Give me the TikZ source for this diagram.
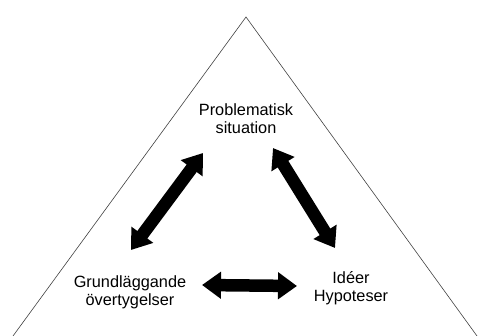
\documentclass[tikz,border=0pt]{standalone}
\usepackage{fontspec}
\setmainfont{Liberation Sans}
\usetikzlibrary{arrows.meta}
\begin{document}
\begin{tikzpicture}[x=1pt,y=-1pt,
    txt/.style={align=center,inner sep=0pt,font=\fontsize{16.3}{17.8}\selectfont},
    dblarrow/.style={line width=12.5pt,
      {Triangle[length=19pt,width=26pt]}-{Triangle[length=19pt,width=26pt]}}]
  \useasboundingbox (0,0) rectangle (478,336);

  % the triangle
  \draw[line width=0.6pt,black!75] (13,336) -- (246,17) -- (477,336);

  \node[txt] (prob)  at (246,119) {Problematisk\\situation};
  \node[txt] (grund) at (130,292) {Grundläggande\\övertygelser};
  \node[txt] (idee)  at (351,288) {Idéer\\Hypoteser};

  \draw[dblarrow] ([shift={(1,-42)}]grund.center)  -- ([shift={(-43,34)}]prob.center);
  \draw[dblarrow] ([shift={(27,29)}]prob.center)   -- ([shift={(-16,-40)}]idee.center);
  \draw[dblarrow] ([shift={(72,-7)}]grund.center)  -- ([shift={(-54,-2)}]idee.center);

\end{tikzpicture}
\end{document}
